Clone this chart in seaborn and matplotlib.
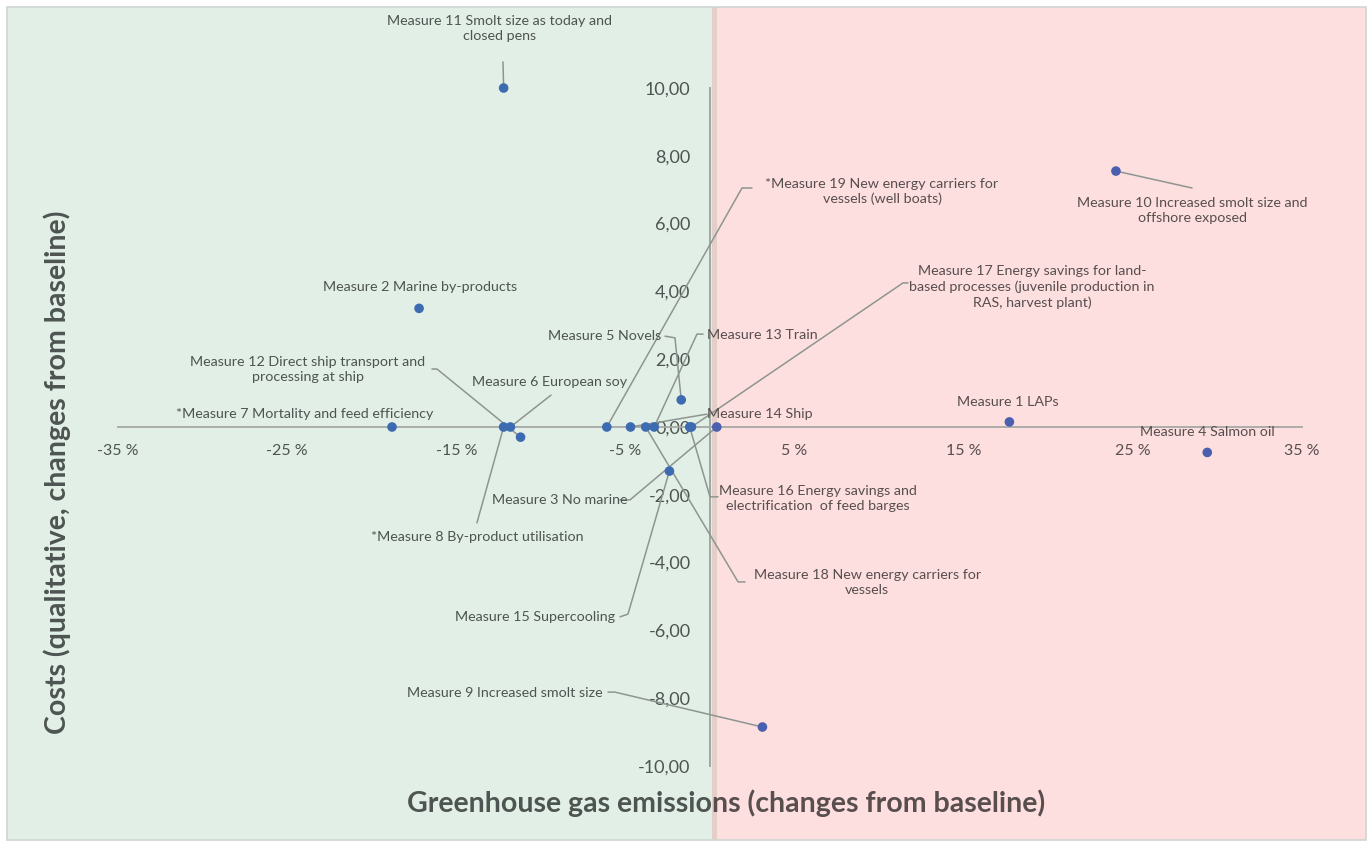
import numpy as np
import pandas as pd
import seaborn as sns
import matplotlib.pyplot as plt
from matplotlib.patches import Rectangle
from matplotlib.transforms import Bbox, TransformedBbox

# measures: GHG change (%) vs qualitative cost change
measures = [f"Measure {i}" for i in range(1, 20)]
ghg_change = [17.7, -17.2, 0.4, 29.4, -1.7, -11.8, -18.8, -12.2, 3.1, 24.0,
              -12.2, -11.2, -3.3, -4.7, -2.4, -1.2, -1.1, -3.8, -6.1]
cost_change = [0.15, 3.5, 0.0, -0.75, 0.8, 0.0, 0.0, 0.0, -8.85, 7.55,
               10.0, -0.3, 0.0, 0.0, -1.3, 0.0, 0.0, 0.0, 0.0]

label_text = [
    "Measure 1 LAPs",
    "Measure 2 Marine by-products",
    "Measure 3 No marine",
    "Measure 4 Salmon oil",
    "Measure 5 Novels",
    "Measure 6 European soy",
    "*Measure 7 Mortality and feed efficiency",
    "*Measure 8 By-product utilisation",
    "Measure 9 Increased smolt size",
    "Measure 10 Increased smolt size and\noffshore exposed",
    "Measure 11 Smolt size as today and\nclosed pens",
    "Measure 12 Direct ship transport and\nprocessing at ship",
    "Measure 13 Train",
    "Measure 14 Ship",
    "Measure 15 Supercooling",
    "Measure 16 Energy savings and\nelectrification  of feed barges",
    "Measure 17 Energy savings for land-\nbased processes (juvenile production in\nRAS, harvest plant)",
    "Measure 18 New energy carriers for\nvessels",
    "*Measure 19 New energy carriers for\nvessels (well boats)",
]

x_ticks = [-35, -25, -15, -5, 5, 15, 25, 35]
y_ticks = [-10, -8, -6, -4, -2, 0, 2, 4, 6, 8, 10]

# label placement (data units) and leader line anchors near the label
label_pos = [(17.6, 0.74), (-17.15, 4.13), (-8.87, -2.15), (29.4, -0.15),
             (-6.21, 2.68), (-9.46, 1.33), (-23.95, 0.38), (-13.78, -3.24),
             (-12.12, -7.85), (28.5, 6.4), (-12.42, 11.76), (-23.77, 1.7),
             (3.08, 2.71), (2.96, 0.38), (-10.35, -5.6), (6.39, -2.12),
             (19.04, 4.13), (9.29, -4.6), (10.17, 6.95)]
leaders = [None, None, [(-5.32, -2.15), (-4.73, -2.15)], None,
           [(-2.66, 2.68), (-2.07, 2.63)], [(-9.4, 0.94)], None, [(-13.78, -2.83)],
           [(-6.03, -7.82), (-5.62, -7.82)], [(28.5, 7.05)], [(-12.24, 10.77)],
           [(-16.44, 1.71), (-16.14, 1.71)], [(-0.41, 2.74), (-0.77, 2.74)],
           [(-0.18, 0.38)], [(-5.32, -5.6), (-4.85, -5.52)], [(0.47, -2.06), (0.0, -2.06)],
           [(11.71, 4.25), (11.41, 4.25)], [(2.07, -4.57), (1.66, -4.57)],
           [(2.48, 7.05), (1.89, 7.05)]]

green_bg = "#E1EFE6"
pink_bg = "#FDDFE0"
grey_green = "#4E5451"
grey_pink = "#584E4E"

sns.set_style("white")
plt.rcParams['font.family'] = ['Lato', 'DejaVu Sans']

W, H = 1368, 843
fig = plt.figure(figsize=(W / 100, H / 100), dpi=100)
fig.patch.set_facecolor("white")

# two-coloured background regions
fig.add_artist(Rectangle((7 / W, 3 / H), 705 / W, 833 / H, transform=fig.transFigure,
                         facecolor=green_bg, edgecolor="none", zorder=-5))
fig.add_artist(Rectangle((717 / W, 3 / H), 649 / W, 833 / H, transform=fig.transFigure,
                         facecolor=pink_bg, edgecolor="none", zorder=-5))
fig.add_artist(Rectangle((712 / W, 3 / H), 5 / W, 833 / H, transform=fig.transFigure,
                         facecolor="#E3CFC8", edgecolor="none", zorder=-5))
fig.add_artist(Rectangle((7 / W, 3 / H), 1359 / W, 833 / H, transform=fig.transFigure,
                         facecolor="none", edgecolor="#CFD6D2", lw=1.2, zorder=-4))

ax = fig.add_axes([118 / W, 1 - 766 / H, 1184 / W, 678 / H])
ax.set_facecolor("none")

df = pd.DataFrame({"measure": measures, "ghg": ghg_change, "cost": cost_change})
df["side"] = np.where(df["ghg"] > 0, "up", "down")

# leader lines
for (lx, ly), path, px, py in zip(label_pos, leaders, df["ghg"], df["cost"]):
    if path is None:
        continue
    xs = [p[0] for p in path] + [px]
    ys = [p[1] for p in path] + [py]
    ax.plot(xs, ys, color="#8E9590", lw=1.1, clip_on=False, zorder=3)

sns.scatterplot(data=df, x="ghg", y="cost", hue="side",
                palette={"down": "#3C6BB1", "up": "#4A5FAD"},
                s=48, edgecolor="none", legend=False, ax=ax, clip_on=False, zorder=5)

for txt, (lx, ly) in zip(label_text, label_pos):
    ax.text(lx, ly, txt, ha="center", va="center", multialignment="center",
            fontsize=10.3, linespacing=1.3, color=grey_green if lx < 0 else grey_pink,
            clip_on=False, zorder=6)

ax.set_xlim(-35, 35)
ax.set_ylim(-10, 10)
ax.set_xlabel("")
ax.set_ylabel("")
for s in ["top", "right"]:
    ax.spines[s].set_visible(False)
ax.spines["left"].set_position(("data", 0))
ax.spines["bottom"].set_position(("data", 0))
ax.spines["left"].set_color("#9FA8A3")
ax.spines["bottom"].set_color("#A7A8A6")
ax.spines["left"].set_linewidth(1.4)
ax.spines["bottom"].set_linewidth(1.3)
ax.spines["left"].set_zorder(2)
ax.spines["bottom"].set_zorder(2)

ax.set_xticks(x_ticks)
ax.set_xticklabels([f"{v} %" for v in x_ticks])
ax.set_yticks(y_ticks)
ax.set_yticklabels([f"{v:.2f}".replace(".", ",") for v in y_ticks])
ax.tick_params(axis="x", length=0, pad=12, labelsize=11.5)
ax.tick_params(axis="y", length=0, pad=14, labelsize=13, labelcolor=grey_green)
for lab, v in zip(ax.get_xticklabels(), x_ticks):
    lab.set_color(grey_green if v < 0 else grey_pink)

# axis titles
fig.text(57 / W, 1 - 472 / H, "Costs (qualitative, changes from baseline)",
         rotation=90, ha="center", va="center", fontsize=20.5, fontweight="bold",
         color=grey_green)
xtitle = "Greenhouse gas emissions (changes from baseline)"
for color, x0, x1 in [(grey_green, 0, 714), (grey_pink, 714, W)]:
    t = fig.text(726 / W, 1 - 803 / H, xtitle, ha="center", va="center",
                 fontsize=20.5, fontweight="bold", color=color)
    t.set_clip_box(TransformedBbox(Bbox([[x0 / W, 0], [x1 / W, 1]]), fig.transFigure))
    t.set_clip_on(True)

fig.savefig("out.png", dpi=100)
